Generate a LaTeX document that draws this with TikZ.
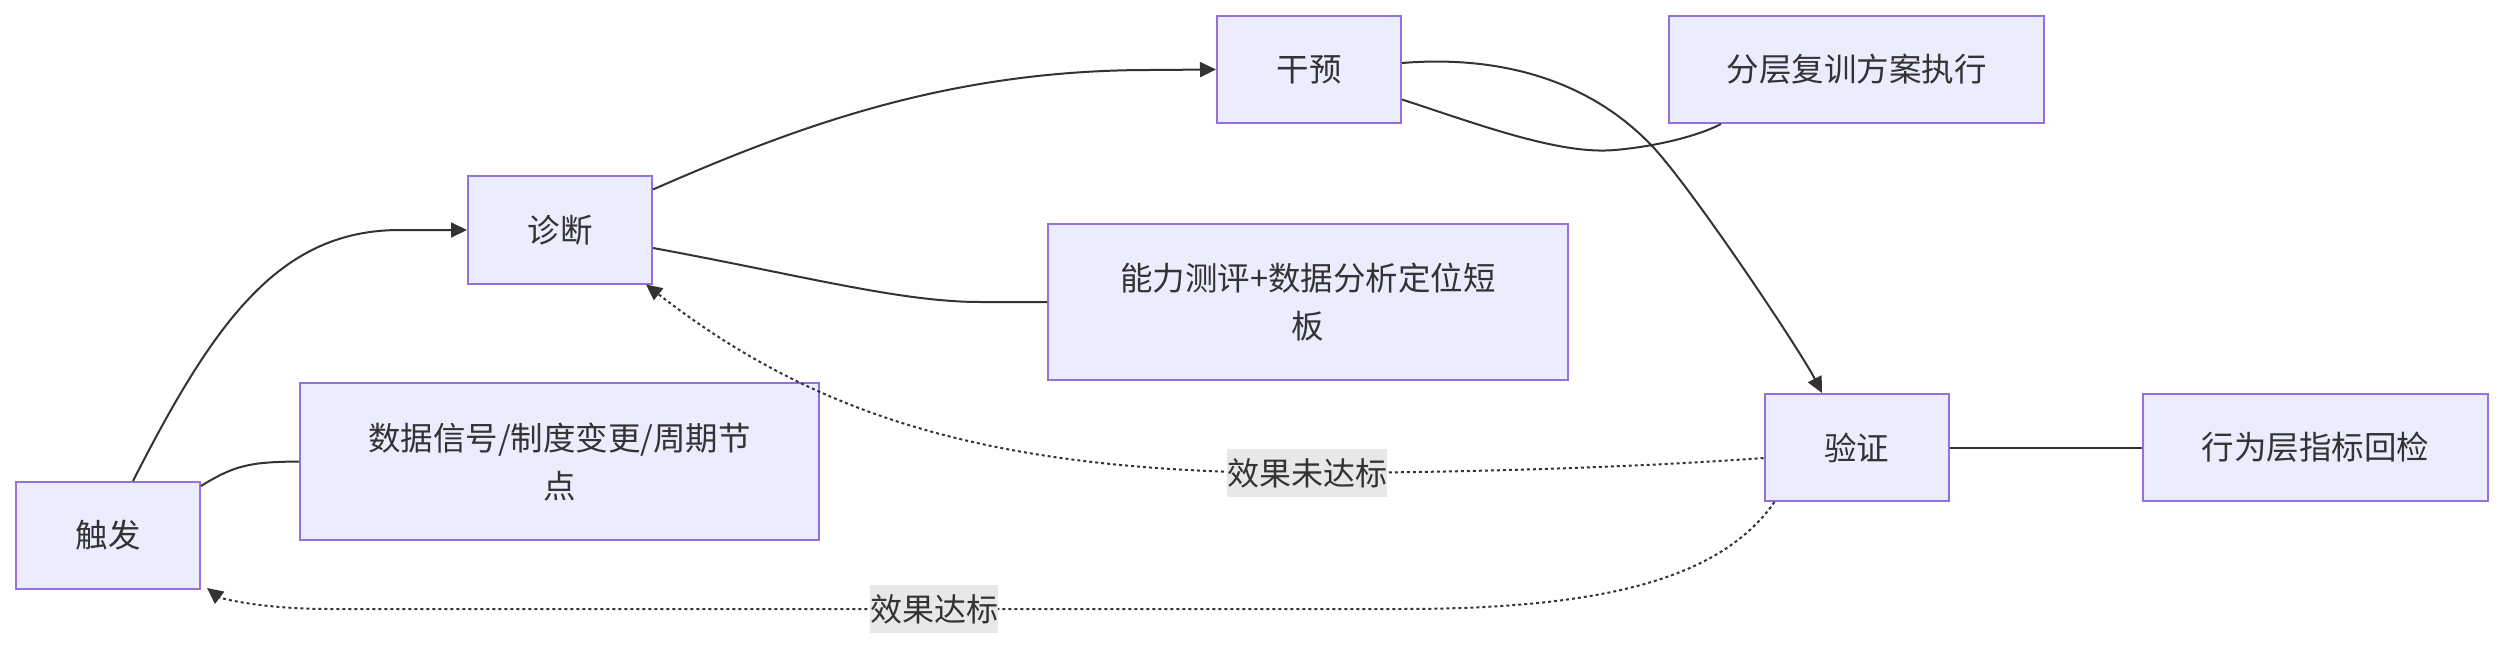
\documentclass[tikz,border=0pt]{standalone}
\usepackage{fontspec}
\setmainfont{Noto Sans CJK SC}
\usetikzlibrary{arrows.meta}
\definecolor{nodefill}{HTML}{ECECFF}
\definecolor{nodeborder}{HTML}{9370DB}
\definecolor{ink}{HTML}{333333}
\definecolor{lblbg}{HTML}{E8E8E8}
\begin{document}
\begin{tikzpicture}[x=1pt,y=-1pt,
  box/.style={draw=nodeborder, fill=nodefill, line width=2pt, inner sep=0pt, text=ink, align=center, font=\fontsize{32.5pt}{48pt}\selectfont},
  smallbox/.style={box, minimum width=184pt, minimum height=107pt},
  edge/.style={draw=ink, line width=2pt},
  arr/.style={-{Triangle[length=16pt,width=15pt]}},
  dotline/.style={dash pattern=on 3pt off 3pt},
  lbl/.style={fill=lblbg, text=ink, inner sep=0pt, minimum height=48pt, font=\fontsize{32pt}{48pt}\selectfont}]
\useasboundingbox (0,0) rectangle (2504,650);
\fill[white] (0,0) rectangle (2504,650);
% nodes
\node[smallbox] (trig) at (108,535.5) {触发};
\node[box, minimum width=519pt, minimum height=157pt] (sig) at (559.5,461.5) {数据信号/制度变更/周期节\\点};
\node[smallbox] (diag) at (560,230) {诊断};
\node[box, minimum width=520pt, minimum height=156pt] (assess) at (1308,302) {能力测评+数据分析定位短\\板};
\node[smallbox] (interv) at (1309,69.5) {干预};
\node[box, minimum width=375pt, minimum height=107pt] (plan) at (1856.5,69.5) {分层复训方案执行};
\node[smallbox] (verify) at (1856.5,447.5) {验证};
\node[box, minimum width=345pt, minimum height=107pt] (check) at (2315.5,447.5) {行为层指标回检};
% label positions
\coordinate (m1) at (1307,473);
\coordinate (m2) at (934,609);
% edges
\draw[edge,arr] ([xshift=25pt]trig.north) .. controls (215,320) and (280,230) .. (400,230) -- (diag.west);
\draw[edge] ([yshift=-5pt]trig.north east) .. controls (235,465) and (250,462) .. (sig.west);
\draw[edge,arr] ([yshift=-14pt]diag.north east) .. controls (800,125) and (950,70) .. (1150,70) -- (interv.west);
\draw[edge] ([yshift=-18pt]diag.east) .. controls (800,275) and (900,302) .. (980,302) -- (assess.west);
\draw[edge] ([yshift=-30pt]interv.east) .. controls (1480,125) and (1560,155) .. (1615,150) .. controls (1660,146) and (1700,135) .. ([xshift=53pt]plan.south west);
\draw[edge,arr] ([yshift=6.5pt]interv.east) .. controls (1500,55) and (1590,80) .. (1653,147) .. controls (1693,190) and (1800,350) .. ([xshift=-34.5pt]verify.north);
\draw[edge] (verify.east) -- (check.west);
\draw[edge,arr,dotline] ([yshift=-10.5pt]verify.west) .. controls (1600,470) and (1400,473) .. (m1) .. controls (1000,473) and (820,420) .. ([xshift=-7pt]diag.south east);
\draw[edge,arr,dotline] ([xshift=11pt]verify.south west) .. controls (1720,580) and (1600,609) .. (1400,609) -- (m2) -- (330,609) .. controls (260,609) and (220,598) .. ([xshift=6pt,yshift=2pt]trig.south east);
\node[lbl, minimum width=159pt] (l1) at (m1) {效果未达标};
\node[lbl, minimum width=128pt] (l2) at (m2) {效果达标};
\end{tikzpicture}
\end{document}
